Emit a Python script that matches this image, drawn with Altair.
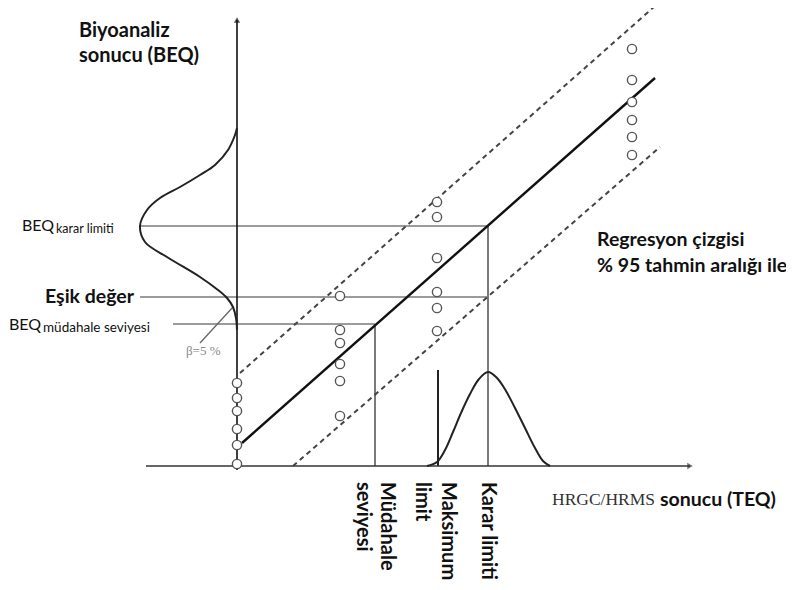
import altair as alt
import pandas as pd

# Coordinate system: TEQ (x) and BEQ (y), origin at the axes' crossing
X_DOMAIN = [-229, 549]
Y_DOMAIN = [-116, 458]

# Axes (start/end) and arrow tips
axis_x0, axis_x1, axis_y0, axis_y1 = [0, 453], [0, 0], [0, -4], [0, 446]
# Regression line and 95 % prediction band (start/end points)
reg_x, reg_y = [5, 418], [23, 388]
upper_x, upper_y = [3, 418], [93, 460]
lower_x, lower_y = [56, 423], [0, 319]
# Horizontal guides: y, x-start, x-end
hguide_y = [240, 169, 142]
hguide_x0 = [-97, -97, -64]
hguide_x1 = [251, 251, 138]
# Vertical guides: x, top
vguide_x = [138, 251]
vguide_top = [142, 240]
max_limit_x, max_limit_top = 201, 96
# Pointer for beta label
ptr_x, ptr_y = [-37, -4], [123, 159]

# Observations (columns of points)
pts_x = [0] * 6 + [103] * 6 + [200] * 6 + [395] * 6
pts_y = [83, 68, 55, 37, 21, 2,
         170, 136, 123, 102, 85, 50,
         264, 249, 208, 174, 158, 135,
         417, 386, 364, 346, 329, 311]

# Distribution on the BEQ axis
left_curve_x = [0, -2, -9, -22, -37, -57, -77, -90, -97, -92, -70, -37, -19, -10, -4, -1, 0]
left_curve_y = [338, 331, 316, 301, 291, 279, 268, 256, 240, 224, 209, 189, 176, 168, 159, 148, 136]
# Distribution on the TEQ axis
bottom_curve_x = [190, 200, 208, 216, 224, 233, 242, 251, 260, 269, 278, 288, 298, 306, 313]
bottom_curve_y = [0, 4, 16, 34, 53, 72, 87, 94, 88, 75, 58, 38, 18, 5, 0]

xs = alt.Scale(domain=X_DOMAIN, nice=False, zero=False)
ys = alt.Scale(domain=Y_DOMAIN, nice=False, zero=False)


def seg_layer(x0, y0, x1, y1, color, width, dash=None):
    df = pd.DataFrame({"x": x0, "y": y0, "x2": x1, "y2": y1})
    kw = dict(color=color, strokeWidth=width)
    if dash is not None:
        kw["strokeDash"] = dash
    return alt.Chart(df).mark_rule(**kw).encode(
        x=alt.X("x:Q", scale=xs, axis=None),
        y=alt.Y("y:Q", scale=ys, axis=None),
        x2="x2:Q", y2="y2:Q")


def curve_layer(cx, cy, color="#222", width=2):
    df = pd.DataFrame({"x": cx, "y": cy, "i": list(range(len(cx)))})
    return alt.Chart(df).mark_line(color=color, strokeWidth=width, interpolate="catmull-rom").encode(
        x=alt.X("x:Q", scale=xs, axis=None),
        y=alt.Y("y:Q", scale=ys, axis=None),
        order="i:Q")


def text_layer(txt, x, y, size, weight="normal", font="Lato", color="#111",
               align="left", baseline="middle", angle=0):
    df = pd.DataFrame({"x": [x], "y": [y], "t": [txt]})
    return alt.Chart(df).mark_text(fontSize=size, fontWeight=weight, font=font, color=color,
                                   align=align, baseline=baseline, angle=angle).encode(
        x=alt.X("x:Q", scale=xs, axis=None),
        y=alt.Y("y:Q", scale=ys, axis=None),
        text="t:N")


layers = []
# guides
layers.append(seg_layer(hguide_x0, hguide_y, hguide_x1, hguide_y, "#7a7a7a", 1.6))
layers.append(seg_layer(vguide_x, [0, 0], vguide_x, vguide_top, "#7a7a7a", 2))
layers.append(seg_layer([max_limit_x], [0], [max_limit_x], [max_limit_top], "#222", 2))
# axes
layers.append(seg_layer([-91], [0], [axis_x0[1]], [0], "#333", 1.6))
layers.append(seg_layer([0], [axis_y0[1]], [0], [axis_y1[1]], "#111", 1.6))
# band and regression
layers.append(seg_layer([upper_x[0]], [upper_y[0]], [upper_x[1]], [upper_y[1]], "#444", 2, [5, 4]))
layers.append(seg_layer([lower_x[0]], [lower_y[0]], [lower_x[1]], [lower_y[1]], "#444", 2, [5, 4]))
layers.append(seg_layer([reg_x[0]], [reg_y[0]], [reg_x[1]], [reg_y[1]], "#111", 2.4))
# pointer
layers.append(seg_layer([ptr_x[0]], [ptr_y[0]], [ptr_x[1]], [ptr_y[1]], "#666", 1.3))
# distributions
layers.append(curve_layer(left_curve_x, left_curve_y))
layers.append(curve_layer(bottom_curve_x, bottom_curve_y))
# arrowheads
arr = pd.DataFrame({"x": [0], "y": [446]})
layers.append(alt.Chart(arr).mark_point(shape="triangle-up", filled=True, color="#111", size=40).encode(
    x=alt.X("x:Q", scale=xs, axis=None), y=alt.Y("y:Q", scale=ys, axis=None)))
arr2 = pd.DataFrame({"x": [453], "y": [0]})
layers.append(alt.Chart(arr2).mark_point(shape="triangle-right", filled=True, color="#333", size=40).encode(
    x=alt.X("x:Q", scale=xs, axis=None), y=alt.Y("y:Q", scale=ys, axis=None)))
# points
pdf = pd.DataFrame({"x": pts_x, "y": pts_y})
layers.append(alt.Chart(pdf).mark_point(shape="circle", filled=True, fill="white", stroke="#555",
                                         strokeWidth=1.4, size=85, opacity=1).encode(
    x=alt.X("x:Q", scale=xs, axis=None), y=alt.Y("y:Q", scale=ys, axis=None)))

# texts
layers.append(text_layer("Biyoanaliz", -158, 429, 20, "bold", baseline="alphabetic"))
layers.append(text_layer("sonucu (BEQ)", -158, 404, 20, "bold", baseline="alphabetic"))
layers.append(text_layer("BEQ", -215, 240, 16))
layers.append(text_layer("karar limiti", -181, 237, 12.5))
layers.append(text_layer("Eşik değer", -192, 169, 19.5, "bold"))
layers.append(text_layer("BEQ", -228, 141, 16))
layers.append(text_layer("müdahale seviyesi", -194, 138, 13.5))
layers.append(text_layer("β=5 %", -51, 115, 13, font="Liberation Serif", color="#888"))
layers.append(text_layer("Regresyon çizgisi", 360, 220, 19.5, "bold", baseline="alphabetic"))
layers.append(text_layer("% 95 tahmin aralığı ile", 360, 194, 19.5, "bold", baseline="alphabetic"))
layers.append(text_layer("HRGC/HRMS", 315, -34, 17.5, font="Liberation Serif", color="#333"))
layers.append(text_layer("sonucu (TEQ)", 423, -34, 19.5, "bold"))
layers.append(text_layer("Müdahale", 150, -16, 20, "bold", angle=90))
layers.append(text_layer("seviyesi", 126, -16, 20, "bold", angle=90))
layers.append(text_layer("Maksimum", 211, -16, 20, "bold", angle=90))
layers.append(text_layer("limit", 185, -16, 20, "bold", angle=90))
layers.append(text_layer("Karar limiti", 251, -16, 20, "bold", angle=90))

chart = alt.layer(*layers).properties(
    width=778, height=574, padding=0, autosize=alt.AutoSizeParams(type="none"),
    background="white"
).configure_view(stroke=None)

chart.save("out.html", embed_options={"renderer": "svg", "actions": False})
